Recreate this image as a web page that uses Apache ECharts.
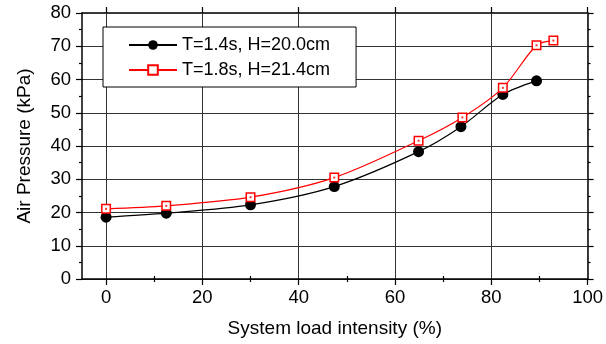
<!DOCTYPE html>
<html>
<head>
<meta charset="utf-8">
<script src="https://cdn.jsdelivr.net/npm/echarts@6/dist/echarts.min.js"></script>
<style>
  html, body { margin: 0; padding: 0; background: #fff; }
  #chart { width: 606px; height: 344px; }
</style>
</head>
<body>
<div id="chart"></div>
<script>
// values
const loadA = [0, 12.5, 30, 47.4, 64.9, 73.7, 82.4, 89.4];
const pressureA = [18.6, 19.8, 22.3, 27.8, 38.3, 45.8, 55.5, 59.6];
const loadB = [0, 12.5, 30, 47.4, 64.9, 74, 82.4, 89.4, 92.9];
const pressureB = [21.1, 22.0, 24.6, 30.5, 41.6, 48.6, 57.5, 70.3, 71.7];
const nameA = "T=1.4s, H=20.0cm";
const nameB = "T=1.8s, H=21.4cm";
const xMajor = [0, 20, 40, 60, 80, 100];
const xMinor = [10, 30, 50, 70, 90];

const FONT = "'Liberation Sans', Arial, sans-serif";
const pairs = (xs, ys) => xs.map((x, i) => [x, ys[i]]);

const chart = echarts.init(document.getElementById("chart"));

const xBase = {
  type: "value",
  min: -5,
  max: 100,
  gridIndex: 0,
  axisLine: { show: true, onZero: false, lineStyle: { color: "#000", width: 1.5 } },
  splitLine: { show: false },
  axisLabel: { show: false },
};

const yBase = {
  type: "value",
  min: 0,
  max: 80,
  interval: 10,
  axisLine: { show: true, onZero: false, lineStyle: { color: "#000", width: 1.5 } },
  axisTick: { show: true, length: 6, lineStyle: { color: "#000", width: 1.2 } },
  minorTick: { show: true, splitNumber: 2, length: 3, lineStyle: { color: "#000", width: 1.2 } },
};

chart.setOption({
  animation: false,
  grid: { left: 82, right: 17, top: 13, bottom: 65 },
  legend: {
    orient: "vertical",
    left: 103,
    top: 27,
    data: [nameA, nameB],
    padding: [9, 26, 8, 25],
    itemGap: 7,
    itemWidth: 48,
    itemHeight: 12,
    backgroundColor: "#fff",
    borderColor: "#000",
    borderWidth: 1,
    textStyle: { fontFamily: FONT, fontSize: 18, color: "#000" },
  },
  xAxis: [
    {
      ...xBase,
      position: "bottom",
      name: "System load intensity (%)",
      nameLocation: "middle",
      nameGap: 40,
      nameTextStyle: { fontFamily: FONT, fontSize: 19, color: "#000" },
      axisTick: { show: true, inside: false, length: 6, customValues: xMajor,
        lineStyle: { color: "#000", width: 1.2 } },
      axisLabel: { show: true, customValues: xMajor, margin: 9,
        fontFamily: FONT, fontSize: 18.5, color: "#000" },
      splitLine: { show: true, lineStyle: { color: "#333", width: 1 } },
      z: 3,
    },
    {
      ...xBase,
      position: "bottom",
      axisLine: { show: false },
      axisTick: { show: true, length: 3, customValues: xMinor,
        lineStyle: { color: "#000", width: 1.2 } },
    },
    {
      ...xBase,
      position: "top",
      axisTick: { show: true, length: 6, customValues: xMajor,
        lineStyle: { color: "#000", width: 1.2 } },
    },
    {
      ...xBase,
      position: "top",
      axisLine: { show: false },
      axisTick: { show: true, length: 3, customValues: xMinor,
        lineStyle: { color: "#000", width: 1.2 } },
    },
  ],
  yAxis: [
    {
      ...yBase,
      position: "left",
      name: "Air Pressure (kPa)",
      nameLocation: "middle",
      nameGap: 48,
      nameTextStyle: { fontFamily: FONT, fontSize: 19, color: "#000" },
      axisLabel: { margin: 11, fontFamily: FONT, fontSize: 18.5, color: "#000" },
      splitLine: { show: true, lineStyle: { color: "#333", width: 1 } },
      z: 3,
    },
    {
      ...yBase,
      position: "right",
      axisLabel: { show: false },
      splitLine: { show: false },
    },
  ],
  series: [
    {
      name: nameA,
      type: "line",
      data: pairs(loadA, pressureA),
      smooth: 0.3,
      symbol: "circle",
      symbolSize: 11,
      lineStyle: { color: "#000", width: 1.2 },
      itemStyle: { color: "#000" },
      z: 4,
    },
    {
      name: nameB,
      type: "line",
      data: pairs(loadB, pressureB),
      smooth: 0.3,
      symbol: "rect",
      symbolSize: 8.5,
      lineStyle: { color: "#ff0000", width: 1.2 },
      itemStyle: { color: "#fff", borderColor: "#ff0000", borderWidth: 1.5 },
      z: 5,
    },
    {
      name: "centre dots",
      type: "scatter",
      data: pairs(loadB, pressureB),
      symbol: "rect",
      symbolSize: 2,
      itemStyle: { color: "#ff0000" },
      silent: true,
      z: 6,
    },
  ],
});
</script>
</body>
</html>
